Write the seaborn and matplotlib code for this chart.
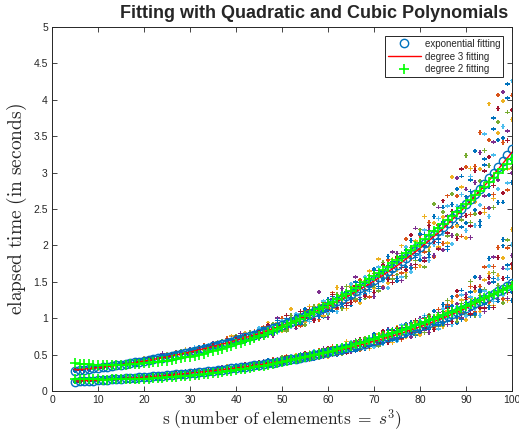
import matplotlib
matplotlib.use('Agg')
import matplotlib.pyplot as plt
import pandas as pd
import seaborn as sns

# problem sizes s = 5 .. 100
s_vals = list(range(5, 101))

# exponential fits (blue circles)
exp_upper = [0.280, 0.287, 0.295, 0.303, 0.311, 0.319, 0.327, 0.336, 0.345, 0.354,
             0.363, 0.373, 0.383, 0.393, 0.403, 0.414, 0.425, 0.436, 0.448, 0.460,
             0.472, 0.484, 0.497, 0.510, 0.524, 0.537, 0.552, 0.566, 0.581, 0.596,
             0.612, 0.628, 0.645, 0.662, 0.679, 0.697, 0.716, 0.735, 0.754, 0.774,
             0.794, 0.815, 0.837, 0.859, 0.882, 0.905, 0.929, 0.953, 0.979, 1.004,
             1.031, 1.058, 1.086, 1.115, 1.144, 1.174, 1.205, 1.237, 1.270, 1.303,
             1.338, 1.373, 1.409, 1.447, 1.485, 1.524, 1.564, 1.605, 1.648, 1.691,
             1.736, 1.782, 1.829, 1.877, 1.927, 1.978, 2.030, 2.083, 2.138, 2.195,
             2.253, 2.312, 2.373, 2.436, 2.500, 2.566, 2.634, 2.704, 2.775, 2.848,
             2.923, 3.001, 3.080, 3.161, 3.245, 3.330]
exp_lower = [0.130, 0.133, 0.137, 0.140, 0.144, 0.148, 0.152, 0.156, 0.160, 0.164,
             0.168, 0.172, 0.177, 0.181, 0.186, 0.191, 0.196, 0.201, 0.206, 0.211,
             0.217, 0.223, 0.228, 0.234, 0.240, 0.247, 0.253, 0.260, 0.266, 0.273,
             0.280, 0.287, 0.295, 0.303, 0.310, 0.318, 0.327, 0.335, 0.344, 0.353,
             0.362, 0.371, 0.381, 0.391, 0.401, 0.411, 0.422, 0.433, 0.444, 0.456,
             0.468, 0.480, 0.492, 0.505, 0.518, 0.531, 0.545, 0.559, 0.574, 0.589,
             0.604, 0.620, 0.636, 0.652, 0.669, 0.686, 0.704, 0.722, 0.741, 0.760,
             0.780, 0.800, 0.821, 0.842, 0.864, 0.887, 0.910, 0.933, 0.957, 0.982,
             1.008, 1.034, 1.061, 1.088, 1.116, 1.145, 1.175, 1.205, 1.237, 1.269,
             1.301, 1.335, 1.370, 1.405, 1.442, 1.479]

# degree 2 fits (green plus)
quad_upper = [0.380, 0.375, 0.371, 0.367, 0.364, 0.362, 0.360, 0.360, 0.360, 0.361,
              0.362, 0.364, 0.367, 0.371, 0.376, 0.381, 0.387, 0.393, 0.401, 0.409,
              0.418, 0.427, 0.438, 0.449, 0.461, 0.473, 0.486, 0.500, 0.515, 0.531,
              0.547, 0.564, 0.582, 0.600, 0.619, 0.639, 0.660, 0.681, 0.703, 0.726,
              0.750, 0.774, 0.799, 0.825, 0.851, 0.879, 0.907, 0.935, 0.965, 0.995,
              1.026, 1.058, 1.090, 1.123, 1.157, 1.192, 1.227, 1.263, 1.300, 1.338,
              1.376, 1.415, 1.455, 1.495, 1.537, 1.579, 1.621, 1.665, 1.709, 1.754,
              1.800, 1.846, 1.893, 1.941, 1.990, 2.039, 2.089, 2.140, 2.191, 2.244,
              2.297, 2.350, 2.405, 2.460, 2.516, 2.573, 2.630, 2.688, 2.747, 2.807,
              2.867, 2.929, 2.990, 3.053, 3.116, 3.180]
quad_lower = [0.165, 0.163, 0.161, 0.160, 0.159, 0.158, 0.157, 0.157, 0.158, 0.158,
              0.159, 0.160, 0.162, 0.163, 0.166, 0.168, 0.171, 0.174, 0.178, 0.182,
              0.186, 0.190, 0.195, 0.200, 0.206, 0.212, 0.218, 0.224, 0.231, 0.238,
              0.246, 0.253, 0.262, 0.270, 0.279, 0.288, 0.297, 0.307, 0.317, 0.328,
              0.339, 0.350, 0.361, 0.373, 0.385, 0.398, 0.410, 0.423, 0.437, 0.451,
              0.465, 0.479, 0.494, 0.509, 0.524, 0.540, 0.556, 0.572, 0.589, 0.606,
              0.624, 0.641, 0.659, 0.678, 0.697, 0.716, 0.735, 0.755, 0.775, 0.795,
              0.816, 0.837, 0.858, 0.880, 0.902, 0.924, 0.947, 0.970, 0.993, 1.017,
              1.041, 1.065, 1.090, 1.115, 1.140, 1.166, 1.192, 1.218, 1.245, 1.272,
              1.299, 1.327, 1.355, 1.383, 1.411, 1.440]

# degree 3 fits (red line)
s_cubic = [5, 10, 15, 20, 25, 30, 35, 40, 45, 50, 55, 60, 65, 70, 75, 80, 85, 90, 95, 100]
cubic_upper = [0.290, 0.320, 0.360, 0.410, 0.470, 0.535, 0.610, 0.695, 0.790, 0.900,
               1.025, 1.165, 1.325, 1.510, 1.720, 1.960, 2.230, 2.540, 2.890, 3.280]
cubic_lower = [0.135, 0.150, 0.169, 0.191, 0.217, 0.246, 0.279, 0.317, 0.360, 0.409,
               0.465, 0.528, 0.600, 0.682, 0.775, 0.881, 1.001, 1.137, 1.292, 1.465]

# measured timings: % deviation of each run from the exponential fit (estimated)
upper_dev = [
    [2, -3, 1, 4, -2, 0, 3, -1, 2, 5, -2, 1, 3, -4, 2, 0, -1, 4, 2, -3,
     1, 5, -2, 3, 0, -4, 2, 6, -1, 3, 0, 4, -3, 2, -6, 5, 1, -8, 3, -2,
     6, -5, 2, -9, 4, -3, 7, -6, 1, -10, 3, -7, 5, -4, -11, 2, 8, -5, -9, 4,
     -12, 1, 6, -8, -3, 9, -10, 2, -6, 5, -13, 4, -7, 10, -2, -9, 6, -12, 3, -5,
     12, -14, 8, -6, 18, -10, 4, 22, -16, 9, -8, 25, 12, -18, 30, -5],
    [-1, 3, -2, 0, 4, -3, 1, 5, -2, 2, 4, -1, -3, 2, 6, -2, 3, -4, 1, 5,
     -3, 2, 7, -1, 4, -5, 1, 3, 8, -2, 5, -4, 2, 9, -3, -7, 4, 1, -5, 6,
     -4, 8, -7, 3, -2, 10, -8, 5, -3, -11, 7, -5, 2, -12, 6, -3, 12, -9, 4, -7,
     3, -10, 8, -4, -13, 6, 2, -11, 9, -6, 5, -9, 14, -3, -12, 8, -6, 11, -14, 4,
     -10, 16, -5, 10, -15, 20, -8, 14, 28, -12, 18, -10, 32, 8, -15, 22],
    [4, 0, -2, 2, 1, -3, 5, 0, -1, 3, 1, -3, 5, 0, -2, 8, -1, 2, -3, 1,
     6, -1, 3, -3, 9, 1, -2, 5, -4, 2, -2, 7, 0, -4, 11, 3, -6, 8, -3, 0,
     2, -6, 12, -4, 6, -9, 3, 18, -7, 2, -8, 10, -3, 6, -10, 1, -6, 15, -4, -13,
     8, -4, -14, 5, 11, -7, 16, -3, -10, 7, -4, 12, -11, 2, 7, -13, 18, -5, 8, -10,
     6, -12, 24, -7, 12, -18, 16, -4, 10, -14, 35, -12, 15, 26, -6, 12],
    [0, 6, 2, -4, 3, 1, -2, 2, 4, -1, -4, 3, 0, 6, -1, -5, 4, 1, -2, 12,
     2, -4, 1, 4, -3, 6, -1, -6, 4, 1, 8, -1, -5, 3, 6, -2, 10, -4, 2, -9,
     -8, 4, 1, -11, 14, -2, -5, 6, -12, 3, 5, 1, -9, 22, -6, -14, 5, -2, 11, -8,
     -6, 14, -9, 3, -2, -15, 6, -12, 4, 13, 9, -15, 1, -8, 16, -3, -10, 6, -13, 15,
     -14, 4, -10, 20, -4, 8, -20, 6, 18, -6, -14, 14, -6, 30, 10, -10],
    [-3, 2, 5, 1, -2, 4, -1, 3, -4, 6, 2, 5, -2, -1, 4, 2, -4, 7, 0, -2,
     -1, 3, -5, 8, 2, -2, 5, 0, 2, -5, 3, -5, 6, -1, 2, 8, -4, -2, 7, 4,
     -2, -10, 5, 7, -6, 1, -11, 9, 4, -5, -12, 4, 7, -7, 2, -10, -3, 7, -11, 10,
     6, -8, 3, -12, 7, -5, -12, 10, -4, -9, -8, 6, -14, 5, -7, 12, -16, -8, 20, -2,
     9, -8, 14, -12, -6, 26, -12, -10, 4, 16, 6, -16, 20, -4, 18, -8],
    [1, -2, 3, 6, 0, -1, 2, -3, 1, 0, 6, -2, 1, 3, -3, 4, 1, -1, 5, 3,
     3, 0, -3, 1, 5, -1, 8, -3, 1, 6, -5, 2, 4, -7, 5, 0, -3, 5, -8, 1,
     9, 2, -3, 4, -9, 6, 2, -7, 8, 6, 1, -10, 4, 3, 8, -8, 2, -12, 6, -2,
     10, -2, -6, 8, -8, 3, 9, -6, -14, 2, 2, -12, 8, -13, 4, -6, 9, -14, -6, 8,
     -4, 10, -15, 4, 8, -14, 12, -16, -8, 24, -18, 8, -10, 15, -12, 28],
    [3, 1, -4, 0, 5, 2, -3, 1, 3, -2, 0, 2, -5, 4, 1, -3, 6, -2, 2, 0,
     -4, 1, 2, -2, -1, 3, -4, 2, -2, 4, 2, 0, -2, 5, -4, 6, -1, 3, -4, -5,
     4, -3, 8, -6, 2, -4, 12, -2, -8, 9, -3, 6, -11, 1, 4, -5, 10, -7, 2, -10,
     -9, 5, 2, -10, 4, -11, -4, 8, -7, -12, 6, -5, -9, 14, -10, 3, -12, 9, -4, -11,
     16, -6, 4, -14, 22, -6, -14, 12, -12, 6, 10, -6, 26, -14, 6, 16],
    [-2, 4, 0, 2, -1, 5, 0, -2, 6, 1, 3, -4, 2, 1, -2, 6, -3, 3, -1, 4,
     0, -2, 4, 2, -4, 2, 3, -4, 6, 0, -3, 5, -4, 1, 3, -3, 6, -6, 0, 5,
     -5, 6, -2, 1, 10, -7, 4, -3, 5, -8, 9, -2, 3, -8, -4, 7, -9, 4, -6, 5,
     -4, 9, -11, 2, -6, 10, -8, -4, 12, -3, -11, 2, 6, -10, -5, 9, -2, -10, 12, -7,
     3, -16, 8, 14, -10, 4, 10, -8, -18, 12, -4, 20, -16, 10, 24, -14],
]
lower_dev = [
    [5, -8, 3, 10, -4, 0, 7, -6, 2, 9, -5, 4, 8, -3, 6, -7, 2, 10, -4, 3,
     8, -3, 5, -8, 12, 1, -5, 7, -2, 4, -6, 10, 2, -4, 7, -9, 5, -2, 9, -5,
     4, -8, 11, -3, 6, -10, 2, 8, -6, 12, -4, 7, -10, 3, 9, -7, 5, -12, 8, -2,
     10, -8, 4, -11, 6, 14, -9, 3, -6, 11, -10, 5, 12, -7, -12, 8, 2, -9, 15, -4,
     18, -8, 10, -14, 24, 4, -12, 30, 10, -6, 40, 12, -10, 48, 20, -8],
    [-6, 4, 9, -2, 5, -7, 3, 8, -5, 1, 7, -3, -6, 5, 2, 9, -4, 1, 6, -8,
     -2, 6, -7, 4, -3, 9, -6, 2, 10, -4, 3, -7, 8, 5, -10, 2, -3, 11, -5, 6,
     -9, 5, -2, 10, -7, 3, 14, -5, -10, 4, 6, -11, 2, 10, -6, -3, 12, -8, 3, -10,
     -5, 9, -12, 5, 8, -7, -10, 12, 4, -9, 7, -12, 3, 9, -6, -11, 10, -3, -8, 14,
     -6, 14, -10, 20, -4, 10, 22, -10, 16, 34, -6, 28, 44, -10, 36, 14],
    [2, 7, -5, 4, -8, 6, -1, 4, 9, -3, 3, 8, -2, -7, 10, -3, 6, -5, 3, 12,
     4, -5, 2, 8, -6, 5, 3, -9, 6, -1, 9, -2, -8, 12, 0, 6, -9, 4, -2, -7,
     7, 2, -6, 5, -11, 9, -4, 2, 12, -8, -2, 10, -8, 5, 2, -12, 7, 6, -9, 15,
     4, -6, 9, -2, -13, 5, 11, -8, 8, -12, 12, -4, -10, 6, 10, -13, 4, 8, -11, 6,
     -12, 6, 16, -8, 12, -15, 8, 14, -12, 20, 24, -12, 16, 30, -14, 50],
    [-4, 1, 6, -7, 2, 10, -5, 0, 4, -6, -2, 6, 4, -8, -3, 5, 10, -6, -1, 5,
     -6, 3, 9, -4, 2, -8, 11, 4, -5, 8, -4, 5, 11, -6, 4, -3, 8, -10, 6, 2,
     -3, 10, -8, 2, 9, -5, 6, -12, 3, 8, 10, -5, 4, -9, 13, 2, -10, 4, -4, 7,
     -10, 12, -4, 8, 2, -10, 6, -4, 14, -6, -6, 9, -2, -12, 5, 12, -8, -14, 6, 10,
     8, -12, 4, 10, -10, 16, -6, 4, 26, -14, 14, 38, -8, 20, -12, 26],
    [8, -3, 0, 5, -6, 3, 9, -4, -2, 6, 1, -6, 9, 3, -8, 1, -5, 6, 8, -2,
     10, 1, -4, 6, 8, -3, -1, 6, -7, 3, -1, 8, -5, 2, 9, -6, 2, 6, -8, 10,
     6, -6, 4, -9, 2, 14, -8, 5, -2, -9, 3, 8, -6, -11, 4, 9, -3, 10, -12, 2,
     7, -3, -9, 12, -5, 3, -12, 9, -2, 4, 4, -8, 10, 2, -10, 5, -12, 12, -6, -10,
     -10, 20, -6, -12, 8, -8, 28, -14, 6, 10, -10, 22, 6, -14, 44, -4],
    [-1, 6, -7, 2, 8, -2, 5, -8, 3, 4, 9, -1, 2, -5, 6, 4, -8, 3, -6, 7,
     -5, 8, 1, -3, 5, 7, -8, 1, 4, -6, 6, -3, 3, -9, 6, 11, -5, 0, 4, -4,
     -7, 3, 7, -5, -10, 6, -2, 11, -7, 5, -9, 2, 12, -4, -8, 6, -6, 2, 10, -7,
     12, -6, 3, -8, 10, -12, 5, -10, 7, -3, -12, 13, -5, 8, -3, 9, 14, -6, 3, -13,
     12, -4, -14, 6, 18, -10, 10, -6, -16, 8, 32, -8, 12, -6, 16, 36],
    [3, -5, 4, -3, 1, 7, -6, 5, -1, -4, -7, 3, -3, 8, -1, -6, 5, -2, 10, -4,
     2, -7, 6, -1, -4, 3, 6, -3, -2, 9, -8, 3, -1, 7, -4, 4, -7, 9, -4, 3,
     10, -4, 2, 8, -4, -7, 10, -3, 6, -2, 12, -3, -4, 7, -9, 12, -2, -6, 5, -12,
     -3, 5, 11, -5, -9, 8, -6, 14, -10, 9, 10, -9, 6, -4, 12, -7, -5, 10, -12, 4,
     4, 10, -10, 26, -6, 12, -10, 18, -8, -10, 20, -14, 34, 10, -6, 18],
    [-7, 2, -3, 8, -5, -4, 2, 7, -6, 3, 5, -5, 1, 6, -4, 8, -2, -7, 3, -5,
     -3, 4, -2, 10, -5, 0, 5, -6, 8, 2, 4, -6, 7, 0, -7, 8, 4, -5, 2, -8,
     -5, 7, -10, 4, 6, -3, -8, 7, -4, 10, -7, 5, 8, -3, 6, -9, 9, -4, -8, 5,
     5, -11, 7, 4, -7, 10, -3, -9, 12, -8, -9, 7, -8, 12, -4, -9, 11, 5, -4, -8,
     -8, 12, 22, -6, -12, 6, 16, -12, 12, -4, -12, 16, -10, 42, 8, -16],
]

matlab_colors = ['#0072BD', '#D95319', '#EDB120', '#7E2F8E', '#77AC30', '#4DBEEE', '#A2142F']

rows = []
for k in range(len(upper_dev)):
    for i, s in enumerate(s_vals):
        rows.append({'s': s, 't': exp_upper[i] * (1 + upper_dev[k][i] / 100), 'run': k})
        rows.append({'s': s, 't': exp_lower[i] * (1 + lower_dev[k][i] / 100), 'run': k})
runs_df = pd.DataFrame(rows)
run_colors = [matlab_colors[k % 7] for k in range(len(upper_dev))]

sns.set_style('ticks')
plt.rcParams['font.family'] = ['Liberation Sans', 'DejaVu Sans']
plt.rcParams['mathtext.fontset'] = 'cm'

fig, ax = plt.subplots(figsize=(5.19, 4.33), dpi=100)
fig.subplots_adjust(left=52 / 519, right=512 / 519, bottom=42 / 433, top=406 / 433)

sns.scatterplot(data=runs_df, x='s', y='t', hue='run', palette=run_colors,
                marker='P', s=10, linewidth=0, legend=False, ax=ax, zorder=2)

for ys, lab in [(exp_upper, 'exponential fitting'), (exp_lower, '_nolegend_')]:
    sns.lineplot(x=s_vals, y=ys, ax=ax, linestyle='none', marker='o', markersize=6,
                 markerfacecolor='none', markeredgecolor='#0072BD', markeredgewidth=1.0,
                 color='#0072BD', label=lab, zorder=3)
for ys, lab in [(cubic_upper, 'degree 3 fitting'), (cubic_lower, '_nolegend_')]:
    sns.lineplot(x=s_cubic, y=ys, ax=ax, color='#FF0000', linewidth=1.0, label=lab, zorder=4)
for ys, lab in [(quad_upper, 'degree 2 fitting'), (quad_lower, '_nolegend_')]:
    sns.lineplot(x=s_vals, y=ys, ax=ax, linestyle='none', marker='+', markersize=7,
                 markeredgecolor='#00FF00', markeredgewidth=1.2, color='#00FF00',
                 label=lab, zorder=5)

ax.set_xlim(0, 100)
ax.set_ylim(0, 5)
ax.set_xticks(range(0, 101, 10))
ax.set_yticks([0, 0.5, 1, 1.5, 2, 2.5, 3, 3.5, 4, 4.5, 5])
ax.set_yticklabels(['0', '0.5', '1', '1.5', '2', '2.5', '3', '3.5', '4', '4.5', '5'])
ax.tick_params(direction='in', top=True, right=True, length=3.5, width=0.6,
               labelsize=7.5, colors='#262626', pad=3)
for sp in ax.spines.values():
    sp.set_color('#262626')
    sp.set_linewidth(0.7)

ax.set_title('Fitting with Quadratic and Cubic Polynomials', fontsize=13,
             fontweight='bold', pad=6.5, x=0.57)
ax.set_xlabel(r'$\mathrm{s\ (number\ of\ elemements}\;=\;s^3)$', fontsize=12.5, labelpad=1)
ax.set_ylabel(r'$\mathrm{elapsed\ time\ (in\ seconds)}$', fontsize=14, labelpad=3)

handles, labels = ax.get_legend_handles_labels()
order = ['exponential fitting', 'degree 3 fitting', 'degree 2 fitting']
hmap = dict(zip(labels, handles))
leg = ax.legend([hmap[l] for l in order], order, loc='upper right', fontsize=7,
                frameon=True, fancybox=False, framealpha=1, edgecolor='#262626',
                handlelength=3.4, handletextpad=0.4, borderpad=0.3,
                labelspacing=0.3, borderaxespad=0.9)
leg.get_frame().set_linewidth(0.7)

fig.savefig('out.png', dpi=100)
